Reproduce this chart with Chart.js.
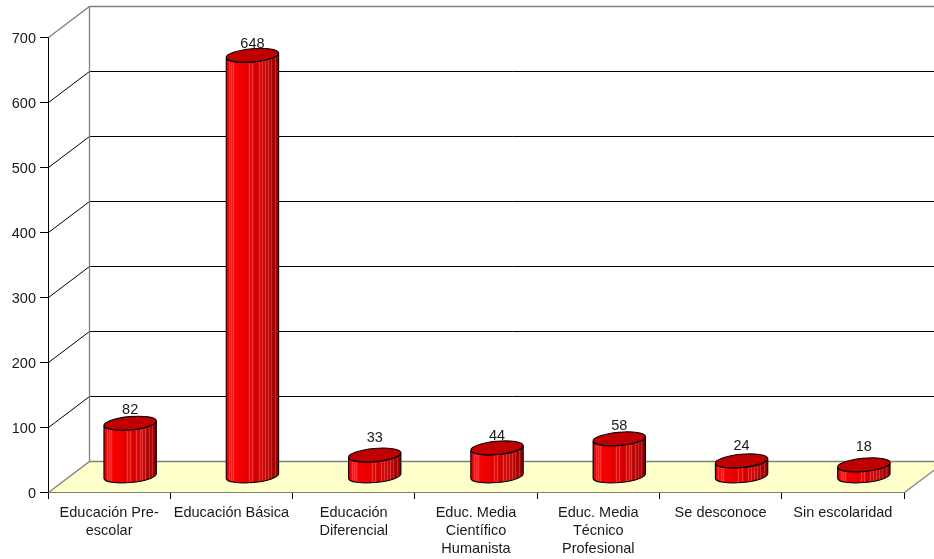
<!DOCTYPE html>
<html><head><meta charset="utf-8">
<style>html,body{margin:0;padding:0;background:#fff}#w{width:934px;height:559px;position:relative}</style>
<script src="https://cdn.jsdelivr.net/npm/chart.js@4"></script></head>
<body><div id="w"><canvas id="c"></canvas></div>
<script>
const categories=[["Educación Pre-","escolar"],"Educación Básica",["Educación","Diferencial"],["Educ. Media","Científico","Humanista"],["Educ. Media","Técnico","Profesional"],"Se desconoce","Sin escolaridad"];
const values=[82,648,33,44,58,24,18];
const yMax=700, yStep=100;
const labelLift=[13,11,17.5,12,13,15,18];
const DX=41, DY=-31;          // wall depth
const FSIZE=14.5, FFAM='"Liberation Sans", Arial, sans-serif';
const stripes=[.06,.1,.14,.44,.5,.62,.68,.73,.79,.85,.92];

class Cylinder extends Chart.BarController{
  draw(){
    const ctx=this.chart.ctx;
    const vals=this.getDataset().data;
    this.getMeta().data.forEach((b,i)=>{
      const cx=b.x+DX/2+0.5, yt=b.y+DY/2, yb=b.base+DY/2, rx=b.width/2, ry=6.6, rot=-0.09;
      const body=()=>{ctx.beginPath();ctx.ellipse(cx,yb,rx,ry,rot,0,Math.PI);ctx.lineTo(cx-rx*Math.cos(rot),yt-rx*Math.sin(rot));ctx.ellipse(cx,yt,rx,ry,rot,Math.PI,0,true);ctx.closePath();};
      ctx.save();
      const g=ctx.createLinearGradient(cx-rx,0,cx+rx,0);
      g.addColorStop(0,'#e00000');g.addColorStop(.1,'#fa0000');g.addColorStop(.22,'#f40000');g.addColorStop(.45,'#e00000');g.addColorStop(.7,'#c80000');g.addColorStop(1,'#8c0000');
      body();ctx.fillStyle=g;ctx.fill();
      ctx.save();ctx.clip();ctx.lineWidth=1.4;
      stripes.forEach(s=>{const sx=Math.round(cx-rx+s*2*rx)+.5;ctx.strokeStyle='rgba(255,110,110,'+(s>.8?.38:.5)+')';ctx.beginPath();ctx.moveTo(sx,yt-20);ctx.lineTo(sx,yb+20);ctx.stroke();});
      ctx.restore();
      body();ctx.strokeStyle='#000';ctx.lineWidth=1.1;ctx.stroke();
      ctx.beginPath();ctx.ellipse(cx,yt,rx,ry,rot,0,Math.PI*2);ctx.fillStyle='#c00000';ctx.fill();ctx.stroke();
      ctx.fillStyle='#1a1a1a';ctx.font=FSIZE+'px '+FFAM;ctx.textAlign='center';ctx.textBaseline='middle';
      ctx.fillText(String(vals[i]),cx,yt-labelLift[i]);
      ctx.restore();
    });
  }
}
Cylinder.id='cylinder';
Cylinder.defaults=Chart.BarController.defaults;
Chart.register(Cylinder);

const walls={id:'walls',beforeDatasetsDraw(ch){
  const {ctx,chartArea:a,scales:{y}}=ch, L=a.left+.5, R=a.right+.5, B=y.getPixelForValue(0)+.5, T=y.getPixelForValue(yMax)+.5;
  ctx.save();
  ctx.fillStyle='#ffffcc';ctx.beginPath();ctx.moveTo(L,B);ctx.lineTo(L+DX,B+DY);ctx.lineTo(R+DX,B+DY);ctx.lineTo(R,B);ctx.closePath();ctx.fill();
  ctx.lineWidth=1;
  y.ticks.forEach(t=>{
    if(t.value===0||t.value===yMax)return;
    const p=Math.round(y.getPixelForValue(t.value))+.5;
    ctx.strokeStyle='#000';ctx.beginPath();ctx.moveTo(L,p);ctx.lineTo(L+DX,p+DY);ctx.lineTo(R+DX,p+DY);ctx.stroke();
  });
  ctx.strokeStyle='#808080';ctx.lineWidth=1.3;
  ctx.beginPath();ctx.moveTo(L,T);ctx.lineTo(L+DX,T+DY);ctx.lineTo(R+DX,T+DY);ctx.stroke();
  ctx.beginPath();ctx.moveTo(L+DX,T+DY);ctx.lineTo(L+DX,B+DY);ctx.stroke();
  ctx.beginPath();ctx.moveTo(L,B);ctx.lineTo(L+DX,B+DY);ctx.lineTo(R+DX,B+DY);ctx.stroke();
  ctx.beginPath();ctx.moveTo(R,B);ctx.lineTo(R+DX,B+DY);ctx.stroke();
  ctx.restore();
}};

new Chart(document.getElementById('c'),{
  type:'cylinder',
  data:{labels:categories,datasets:[{data:values,backgroundColor:'#e00000',borderColor:'#000',barPercentage:.43,categoryPercentage:1}]},
  plugins:[walls],
  options:{responsive:true,maintainAspectRatio:false,animation:false,
    layout:{padding:{left:0,right:30,top:37,bottom:0}},
    plugins:{legend:{display:false},tooltip:{enabled:false}},
    scales:{
      x:{afterFit(s){s.height=67},offset:true,
        grid:{drawOnChartArea:false,color:'#000',tickLength:7,offset:true},border:{color:'#000',width:1},
        ticks:{color:'#1a1a1a',font:{family:FFAM,size:FSIZE,lineHeight:1.24},maxRotation:0,autoSkip:false,padding:5}},
      y:{afterFit(s){s.width=48},min:0,max:yMax,
        ticks:{stepSize:yStep,color:'#1a1a1a',font:{family:FFAM,size:FSIZE},padding:4,labelOffset:1.5},
        grid:{drawOnChartArea:false,color:'#000',tickLength:8},border:{color:'#000',width:1}}
    }}
});
</script></body></html>
